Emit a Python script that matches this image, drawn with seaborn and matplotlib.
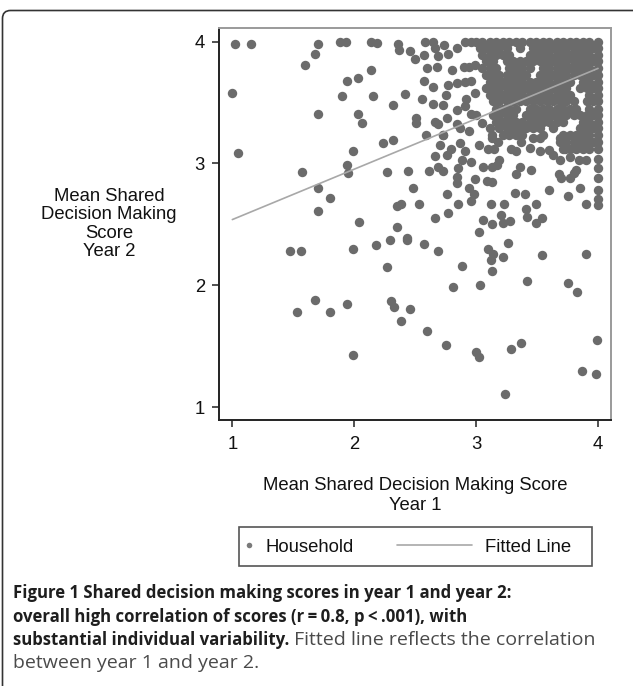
import matplotlib
matplotlib.use("Agg")
import matplotlib.pyplot as plt
import seaborn as sns
import pandas as pd
from matplotlib.lines import Line2D
from matplotlib.patches import Rectangle, FancyBboxPatch
from matplotlib.transforms import IdentityTransform

# ---------------- data (year 1 score, year 2 score) ----------------
points_left = [(1.02, 3.98), (1.15, 3.98), (1.00, 3.58), (1.05, 3.09), (1.57, 2.93), (1.60, 3.81),
               (1.68, 3.90), (1.70, 3.98), (1.70, 3.41), (1.70, 2.80), (1.70, 2.61), (1.80, 2.72),
               (1.88, 4.00), (1.93, 4.00), (1.90, 3.55), (1.94, 3.68), (2.03, 3.70), (2.03, 3.41),
               (2.06, 3.33), (1.99, 3.10), (1.94, 2.99), (1.95, 2.92), (2.04, 2.52), (2.14, 4.00),
               (2.19, 3.99), (2.14, 3.77), (2.15, 3.55), (2.32, 3.48), (2.24, 3.17), (2.32, 3.19),
               (2.27, 2.93), (2.35, 2.65), (2.35, 2.48), (2.29, 2.37), (2.18, 2.33), (2.36, 3.98),
               (2.37, 3.93), (1.99, 2.30)]
points_low = [(1.47, 2.28), (1.56, 2.28), (2.27, 2.15), (2.30, 1.87), (2.33, 1.82), (2.38, 1.71),
              (1.68, 1.88), (1.53, 1.78), (1.80, 1.78), (1.94, 1.85), (1.99, 1.43), (2.46, 1.81),
              (2.60, 1.63), (2.75, 1.51), (3.00, 1.45), (3.02, 1.41), (3.24, 1.11), (3.29, 1.48),
              (3.37, 1.53), (3.87, 1.30), (3.98, 1.27), (3.99, 1.55), (2.81, 1.99), (3.03, 2.00),
              (2.88, 2.16), (2.69, 2.28), (2.57, 2.34), (3.10, 2.30), (3.14, 2.26), (3.12, 2.21),
              (3.13, 2.12), (3.22, 2.23), (3.26, 2.35), (3.42, 2.04), (3.54, 2.25), (3.75, 2.02),
              (3.83, 1.95), (3.90, 2.26), (2.43, 2.37)]
points_mid = [(2.44, 2.94), (2.48, 2.80), (2.38, 2.67), (2.53, 2.67), (2.43, 2.39), (2.66, 2.55),
              (2.77, 2.59), (2.76, 2.75), (2.85, 2.67), (2.96, 2.69), (2.94, 2.80), (2.98, 2.75),
              (2.99, 2.87), (3.12, 2.67), (3.20, 2.58), (3.06, 2.54), (3.13, 2.50), (3.02, 2.44),
              (2.61, 2.94), (2.69, 2.97), (2.73, 2.94), (2.66, 3.06), (2.76, 3.07), (2.70, 3.15),
              (2.79, 3.12), (2.73, 3.23), (2.84, 2.89), (2.84, 2.84), (2.85, 2.96), (2.88, 3.03),
              (2.91, 3.10), (2.87, 3.17), (2.96, 3.01), (3.02, 3.15), (3.06, 2.97), (3.09, 2.86),
              (3.13, 2.85), (3.13, 2.97), (3.17, 2.99), (3.10, 3.12), (3.15, 3.12), (3.13, 3.21),
              (3.18, 3.18)]
points_right = [(3.22, 2.51), (3.28, 2.53), (3.41, 2.63), (3.42, 2.56), (3.49, 2.51), (3.54, 2.55),
                (3.49, 2.67), (3.23, 2.67), (3.32, 2.76), (3.40, 2.75), (3.60, 2.78), (3.75, 2.73),
                (3.90, 2.67), (3.85, 2.80), (4.00, 3.04), (4.00, 2.96), (4.00, 2.88), (4.00, 2.78),
                (4.00, 2.71), (4.00, 2.66), (3.33, 2.91), (3.36, 2.97), (3.45, 2.95), (3.68, 2.91),
                (3.70, 2.88), (3.77, 2.88), (3.80, 2.92), (3.82, 2.95), (3.77, 3.05), (3.84, 3.03),
                (3.90, 3.03), (3.19, 3.03), (3.29, 3.12), (3.33, 3.10), (3.44, 3.13), (3.52, 3.10),
                (3.60, 3.11), (3.63, 3.07), (3.69, 3.03), (3.73, 3.12), (3.69, 3.21), (3.52, 3.21),
                (3.47, 3.21), (3.37, 3.18)]
points_upper = [(2.46, 3.92), (2.50, 3.86), (2.58, 4.00), (2.65, 4.00), (2.57, 3.89), (2.66, 3.95),
                (2.69, 3.88), (2.74, 3.97), (2.77, 3.90), (2.84, 3.95), (2.91, 4.00), (2.60, 3.78),
                (2.68, 3.79), (2.80, 3.77), (2.90, 3.79), (2.94, 3.79), (2.99, 3.81), (2.57, 3.68),
                (2.65, 3.63), (2.77, 3.64), (2.84, 3.66), (2.91, 3.67), (2.96, 3.68), (2.42, 3.57),
                (2.56, 3.53), (2.65, 3.49), (2.73, 3.48), (2.75, 3.56), (2.84, 3.44), (2.91, 3.47),
                (2.96, 3.41), (2.92, 3.53), (2.99, 3.58), (2.51, 3.37), (2.51, 3.33), (2.66, 3.34),
                (2.69, 3.32), (2.76, 3.37), (2.84, 3.32), (2.87, 3.29), (2.94, 3.27), (3.05, 3.33),
                (2.59, 3.23), (2.73, 3.23), (3.11, 3.29), (3.13, 3.23), (3.00, 3.40), (2.96, 4.00)]

# dense cluster in the upper-right corner: year-2 score of each row, year-1 scores in it
dense_row_year2 = [4.00, 3.95, 3.89, 3.84, 3.78, 3.73, 3.67, 3.62, 3.56, 3.51, 3.45, 3.40,
                   3.34, 3.29, 3.23, 3.18, 3.12]
dense_row_year1 = [
    [3.00, 3.05, 3.11, 3.16, 3.22, 3.27, 3.33, 3.38, 3.44, 3.49, 3.55, 3.60, 3.66, 3.71, 3.77, 3.82, 3.88, 3.93, 4.00],
    [3.03, 3.08, 3.14, 3.19, 3.25, 3.36, 3.47, 3.52, 3.58, 3.63, 3.69, 3.74, 3.80, 3.85, 3.91, 3.96, 4.00],
    [3.05, 3.11, 3.16, 3.22, 3.27, 3.44, 3.49, 3.55, 3.60, 3.66, 3.71, 3.77, 3.82, 3.88, 3.93, 4.00],
    [3.08, 3.14, 3.25, 3.30, 3.36, 3.41, 3.47, 3.52, 3.58, 3.63, 3.69, 3.74, 3.80, 3.85, 3.91, 3.96, 4.00],
    [3.05, 3.11, 3.16, 3.27, 3.33, 3.38, 3.44, 3.55, 3.60, 3.66, 3.71, 3.77, 3.82, 3.88, 3.93, 4.00],
    [3.08, 3.14, 3.19, 3.25, 3.30, 3.36, 3.41, 3.52, 3.58, 3.63, 3.69, 3.74, 3.80, 3.85, 3.91, 3.96, 4.00],
    [3.11, 3.16, 3.22, 3.27, 3.33, 3.38, 3.44, 3.49, 3.55, 3.60, 3.66, 3.71, 3.77, 3.88, 3.93, 4.00],
    [3.08, 3.14, 3.19, 3.25, 3.30, 3.36, 3.41, 3.47, 3.52, 3.58, 3.63, 3.69, 3.74, 3.85, 3.91, 3.96, 4.00],
    [3.11, 3.16, 3.22, 3.27, 3.33, 3.38, 3.44, 3.49, 3.55, 3.60, 3.66, 3.71, 3.77, 3.93, 4.00],
    [3.14, 3.19, 3.25, 3.30, 3.36, 3.41, 3.47, 3.52, 3.58, 3.63, 3.69, 3.74, 3.80, 3.91, 3.96, 4.00],
    [3.16, 3.22, 3.27, 3.33, 3.44, 3.49, 3.55, 3.60, 3.66, 3.71, 3.77, 3.82, 3.93, 4.00],
    [3.14, 3.19, 3.25, 3.30, 3.41, 3.47, 3.52, 3.58, 3.63, 3.69, 3.74, 3.80, 3.85, 3.91, 3.96, 4.00],
    [3.16, 3.22, 3.27, 3.33, 3.38, 3.44, 3.49, 3.55, 3.60, 3.66, 3.71, 3.88, 3.93, 4.00],
    [3.19, 3.25, 3.30, 3.36, 3.41, 3.47, 3.52, 3.63, 3.85, 3.91, 3.96, 4.00],
    [3.22, 3.27, 3.33, 3.38, 3.55, 3.71, 3.77, 3.82, 3.88, 3.93, 4.00],
    [3.69, 3.74, 3.80, 3.85, 3.91, 3.96, 4.00],
    [3.71, 3.77, 3.82, 3.88, 3.93, 4.00],
]

fit_year1 = [1.0, 4.0]
fit_year2 = [2.54, 3.78]
tick_values = [1, 2, 3, 4]

x_title = "Mean Shared Decision Making Score\nYear 1"
y_title = "Mean Shared\nDecision Making\nScore\nYear 2"
legend_labels = ["Household", "Fitted Line"]
caption_bold_1 = "Figure 1 Shared decision making scores in year 1 and year 2:"
caption_bold_2 = "overall high correlation of scores (r\u2009=\u20090.8, p\u2009<\u2009.001), with"
caption_bold_3 = "substantial individual variability."
caption_reg_3 = " Fitted line reflects the correlation"
caption_reg_4 = "between year 1 and year 2."

# ---------------- build table ----------------
year1, year2 = [], []
for group in (points_left, points_low, points_mid, points_right, points_upper):
    for a, b in group:
        year1.append(a)
        year2.append(b)
for yv, row in zip(dense_row_year2, dense_row_year1):
    for xv in row:
        year1.append(xv)
        year2.append(yv)
df = pd.DataFrame({"year1": year1, "year2": year2})
fit_df = pd.DataFrame({"year1": fit_year1, "year2": fit_year2})

# ---------------- figure ----------------
sns.set_theme(style="white")
plt.rcParams["font.family"] = ["Liberation Sans", "DejaVu Sans"]

W, H = 633, 686
fig = plt.figure(figsize=(W / 100, H / 100), dpi=100)
fig.patch.set_facecolor("white")

ax_l, ax_r, ax_t, ax_b = 219.3, 610.7, 28.3, 420.0
ax = fig.add_axes([ax_l / W, 1 - ax_b / H, (ax_r - ax_l) / W, (ax_b - ax_t) / H])

dot_color = "#6b6b6b"
line_color = "#a8a8a8"
sns.scatterplot(data=df, x="year1", y="year2", ax=ax, s=46, color=dot_color,
                linewidth=0, legend=False, zorder=2)
sns.lineplot(data=fit_df, x="year1", y="year2", ax=ax, color=line_color, lw=1.2,
             legend=False, zorder=3)

ax.set_xlim(0.893, 4.104)
ax.set_ylim(0.896, 4.109)
ax.set_xticks(tick_values)
ax.set_yticks(tick_values)
ax.set_xticklabels([str(t) for t in tick_values])
ax.set_yticklabels([str(t) for t in tick_values])

lab_size = 13.3
ax.tick_params(axis="both", direction="out", length=5.3, width=1.1, color="#222222",
               labelsize=lab_size, labelcolor="#111111")
ax.tick_params(axis="x", pad=6.5, bottom=True)
ax.tick_params(axis="y", pad=5, left=True)
for side in ("left", "bottom"):
    ax.spines[side].set_color("#222222")
    ax.spines[side].set_linewidth(1.4)
for side in ("top", "right"):
    ax.spines[side].set_color("#9a9a9a")
    ax.spines[side].set_linewidth(1.4)
ax.grid(False)

ax.set_xlabel(x_title, fontsize=lab_size, color="#111111", linespacing=1.2, va="center")
ax.xaxis.set_label_coords(0.5, (ax_b - 495.5) / (ax_b - ax_t))
ax.set_ylabel(y_title, fontsize=lab_size, color="#111111", rotation=0, ha="center",
              va="center", linespacing=1.12)
ax.yaxis.set_label_coords((109 - ax_l) / (ax_r - ax_l), 0.5)

# ---------------- legend ----------------
leg_y = 1 - 547 / H
fig.add_artist(Rectangle((239 / W, 1 - 566 / H), (592 - 239) / W, (566 - 527) / H,
                         transform=fig.transFigure, fill=False, edgecolor="#555555", lw=1.2))
h_dot = Line2D([], [], marker="o", linestyle="none", markersize=4, color="#7a7a7a",
               markeredgewidth=0)
h_line = Line2D([], [], color=line_color, lw=1.2)
fig.legend([h_dot], [legend_labels[0]], loc="center left", bbox_to_anchor=(241.6 / W, leg_y),
           bbox_transform=fig.transFigure, frameon=False, borderpad=0, borderaxespad=0,
           handlelength=0.8, handletextpad=0.5, fontsize=lab_size, labelcolor="#111111")
fig.legend([h_line], [legend_labels[1]], loc="center left", bbox_to_anchor=(397 / W, leg_y),
           bbox_transform=fig.transFigure, frameon=False, borderpad=0, borderaxespad=0,
           handlelength=4.05, handletextpad=0.7, fontsize=lab_size, labelcolor="#111111")

# ---------------- outer frame ----------------
fig.add_artist(FancyBboxPatch((2.5, -60), 720, (H - 10.5) + 60,
                              boxstyle="round,pad=0,rounding_size=8",
                              transform=IdentityTransform(), fill=False,
                              edgecolor="#333333", lw=1.2))

# ---------------- caption ----------------
bold_family = ["Open Sans", "DejaVu Sans"]
reg_family = ["Open Sans", "DejaVu Sans"]
renderer = fig.canvas.get_renderer()


def fit_size(text, target_px, **kw):
    probe = fig.text(0, 0, text, fontsize=10, **kw)
    w = probe.get_window_extent(renderer).width
    probe.remove()
    return 10 * target_px / w


bold_size = fit_size(caption_bold_1, 510 - 13, fontweight="bold", family=bold_family)
reg_size = 0.35 * bold_size + 0.65 * fit_size(caption_reg_4, 277 - 13, family=reg_family)

x0 = 13 / W
bases = [598, 621.5, 645, 668]
fig.text(x0, 1 - bases[0] / H, caption_bold_1, fontsize=bold_size, fontweight="bold",
         family=bold_family, color="#1e1e1e", va="baseline")
fig.text(x0, 1 - bases[1] / H, caption_bold_2, fontsize=bold_size, fontweight="bold",
         family=bold_family, color="#1e1e1e", va="baseline")
t3 = fig.text(x0, 1 - bases[2] / H, caption_bold_3, fontsize=bold_size, fontweight="bold",
              family=bold_family, color="#1e1e1e", va="baseline")
ext = t3.get_window_extent(renderer)
fig.text(ext.x1 / W, 1 - bases[2] / H, caption_reg_3, fontsize=reg_size,
         family=reg_family, color="#4a4a4a", va="baseline")
fig.text(x0, 1 - bases[3] / H, caption_reg_4, fontsize=reg_size,
         family=reg_family, color="#4a4a4a", va="baseline")

fig.savefig("out.png", dpi=100)
